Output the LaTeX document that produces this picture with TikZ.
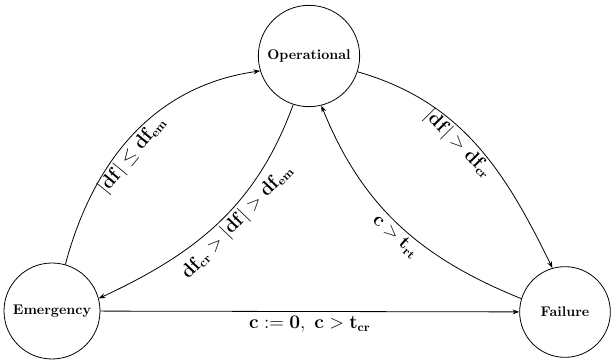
\documentclass[tikz,border=0pt]{standalone}
\usetikzlibrary{arrows.meta}
\begin{document}
\begin{tikzpicture}[x=0.75pt,y=0.75pt,
  state/.style={circle,draw,line width=0.6pt,font=\bfseries\fontsize{10.5}{12}\selectfont,inner sep=0pt},
  tr/.style={-{Stealth[length=5pt,width=3.6pt]},line width=0.6pt},
  lbl/.style={sloped,font=\fontsize{13.5}{16}\selectfont,inner sep=2pt}]
\useasboundingbox (0,0) rectangle (611,-363);
\node[state,minimum size=76pt] (O) at (309,-56) {Operational};
\node[state,minimum size=72pt] (E) at (52,-311) {Emergency};
\node[state,minimum size=68pt] (F) at (565,-312) {Failure};
\draw[tr] (E.74) to[out=75,in=188] node[lbl,below,pos=0.44] {$\mathbf{|df| \le df_{em}}$} (O.197);
\draw[tr] (O.252) to[out=250,in=25] node[lbl,below,pos=0.45] {$\mathbf{df_{cr} > |df| > df_{em}}$} (E.15);
\draw[tr] (O.342) to[out=-16,in=116] node[lbl,below,pos=0.45] {$\mathbf{|df| > df_{cr}}$} (F.106);
\draw[tr] (F.163) to[out=158,in=292] node[lbl,below,pos=0.47,xshift=-2pt] {$\mathbf{c > t_{rt}}$} (O.284);
\draw[tr] (E) -- node[below,font=\fontsize{13.5}{16}\selectfont,inner sep=3pt] {$\mathbf{c := 0,\ c > t_{cr}}$} (F);
\end{tikzpicture}
\end{document}
